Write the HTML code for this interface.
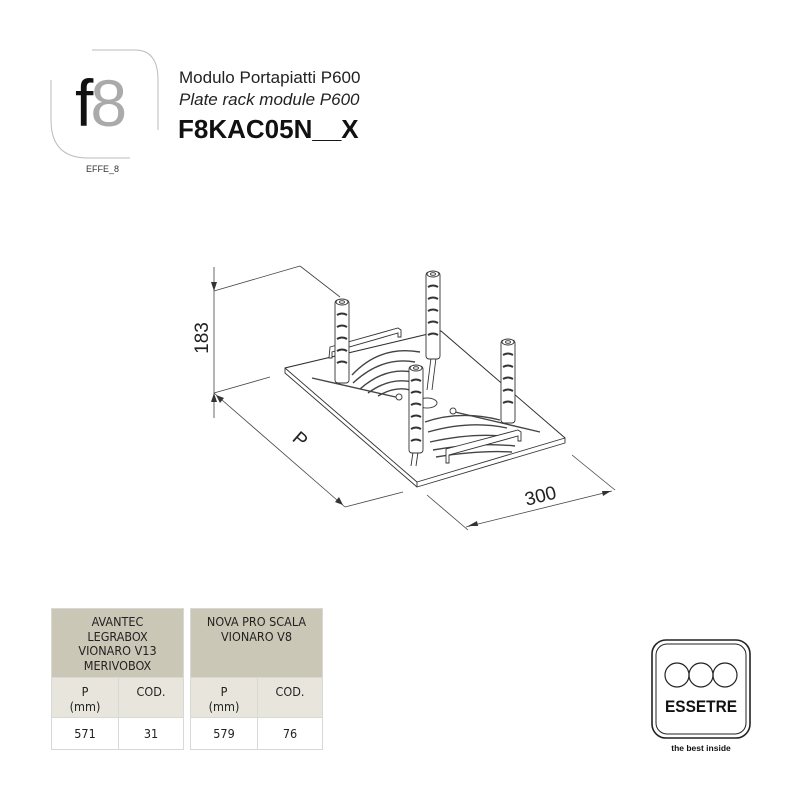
<!DOCTYPE html>
<html><head><meta charset="utf-8"><style>
body{margin:0;background:#fff;width:800px;height:800px;overflow:hidden;position:relative;font-family:"Liberation Sans",sans-serif}
.a{position:absolute}
table{border-collapse:collapse;position:absolute;font-family:"DejaVu Sans Condensed","Liberation Sans",sans-serif;font-size:12.5px;color:#222;text-align:center}
td{border:1px solid #d8d8d4;padding:0}
.h{background:#cac7b6;vertical-align:top;height:62px;line-height:14.5px;padding-top:6px}
.s{background:#e7e5dc;height:33px;vertical-align:top;line-height:15px;padding-top:6px}
.d{background:#fff;height:31px}
</style></head><body>
<svg class="a" style="left:0;top:0" width="800" height="800">
<path d="M92 50 H135 Q158 50 158 80 V130" fill="none" stroke="#bbb" stroke-width="1"/>
<path d="M51 80 V120 Q51 158 88 158 H130" fill="none" stroke="#bbb" stroke-width="1"/>
<g stroke="#444" stroke-width="0.8" fill="none">
<line x1="214" y1="267" x2="214" y2="418"/>
<line x1="214" y1="291" x2="300" y2="266"/><line x1="300" y1="266" x2="340" y2="297"/>
<line x1="214" y1="393" x2="270" y2="377"/>
<line x1="214" y1="393" x2="345" y2="507"/><line x1="345" y1="507" x2="403" y2="492"/>
<line x1="427" y1="495" x2="468" y2="530"/><line x1="572" y1="455" x2="615" y2="490"/>
<line x1="466" y1="527" x2="612" y2="491"/>
</g>
<g fill="#333">
<path d="M214 291 l-3 -9 h6z"/><path d="M214 393 l-3 9 h6z"/>
<path d="M216 395 l4 8 l4 -5z"/><path d="M343 505 l-4 -8 l-4 5z"/>
<path d="M468 526 l9 -5 l1 5z"/><path d="M611 491 l-9 0 l1 5z"/>
</g>
<g stroke="#333" stroke-width="0.9" fill="#fff" stroke-linejoin="round">
<path d="M285 368 L441 331 L565 438 L565 443 L417 487 L285 373Z"/>
<path d="M285 368 L441 331 L565 438 L417 482Z"/>
<line x1="417" y1="482" x2="417" y2="487"/>
</g>
<g stroke="#444" stroke-width="1.4" fill="none">
<path d="M352 375 Q380 345 420 352"/><path d="M353 383 Q382 356 415 362"/><path d="M360 389 Q385 367 412 372"/><path d="M368 393 Q390 377 412 382"/><path d="M378 396 Q395 386 410 390"/>
<path d="M425 422 Q460 410 500 420"/><path d="M428 432 Q470 420 507 428"/><path d="M430 442 Q475 432 512 437"/><path d="M433 450 Q478 442 515 446"/><path d="M436 457 Q480 450 512 452"/>
<line x1="312" y1="378" x2="400" y2="398"/><line x1="455" y1="412" x2="540" y2="432"/>
</g>
<circle cx="399" cy="397" r="3" fill="#fff" stroke="#444"/><circle cx="453" cy="411" r="3" fill="#fff" stroke="#444"/>
<ellipse cx="427" cy="403" rx="10" ry="5" fill="#fff" stroke="#444"/>
<g fill="#fff" stroke="#333" stroke-width="0.9">
<path d="M330 347 L398 328 L401 330 L401 337 L398 337 L398 333 L332 352 L332 358 L329 358Z"/>
<path d="M446 449 L518 430 L521 432 L521 441 L518 441 L518 436 L449 455 L449 463 L446 463Z"/>
</g>
<g fill="#fff" stroke="#333" stroke-width="0.9">
<rect x="335" y="300" width="14" height="83" rx="3"/><ellipse cx="342" cy="302" rx="6" ry="3"/><ellipse cx="342" cy="302" rx="2.5" ry="1.3"/>
<line x1="431" y1="358" x2="427" y2="390"/><line x1="436" y1="358" x2="432" y2="390"/>
<rect x="426" y="272" width="14" height="87" rx="3"/><ellipse cx="433" cy="274" rx="6" ry="3"/><ellipse cx="433" cy="274" rx="2.5" ry="1.3"/>
<rect x="501" y="340" width="14" height="83" rx="3"/><ellipse cx="508" cy="342" rx="6" ry="3"/><ellipse cx="508" cy="342" rx="2.5" ry="1.3"/>
<line x1="413" y1="452" x2="411" y2="466"/><line x1="418" y1="452" x2="416" y2="466"/>
<rect x="409" y="366" width="14" height="87" rx="3"/><ellipse cx="416" cy="368" rx="6" ry="3"/><ellipse cx="416" cy="368" rx="2.5" ry="1.3"/>
</g>
<g stroke="#333" stroke-width="2" fill="none">
<path d="M337 315 q5 -3 10 0 M337 327 q5 -3 10 0 M337 339 q5 -3 10 0 M337 351 q5 -3 10 0 M337 363 q5 -3 10 0"/>
<path d="M428 287 q5 -3 10 0 M428 299 q5 -3 10 0 M428 311 q5 -3 10 0 M428 323 q5 -3 10 0 M428 335 q5 -3 10 0"/>
<path d="M503 355 q5 -3 10 0 M503 367 q5 -3 10 0 M503 379 q5 -3 10 0 M503 391 q5 -3 10 0 M503 403 q5 -3 10 0"/>
<path d="M411 381 q5 -3 10 0 M411 393 q5 -3 10 0 M411 405 q5 -3 10 0 M411 417 q5 -3 10 0 M411 429 q5 -3 10 0 M411 441 q5 -3 10 0"/>
</g>
<text x="0" y="0" transform="translate(208,338) rotate(-90)" text-anchor="middle" font-size="19" fill="#222">183</text>
<text x="0" y="0" transform="translate(296,444) rotate(41)" text-anchor="middle" font-size="19" fill="#222">P</text>
<text x="0" y="0" transform="translate(542,502) rotate(-14)" text-anchor="middle" font-size="19" fill="#222">300</text>
<rect x="652" y="640" width="98" height="98" rx="14" fill="none" stroke="#222" stroke-width="1.6"/>
<rect x="656" y="644" width="90" height="90" rx="11" fill="none" stroke="#222" stroke-width="1"/>
<circle cx="677" cy="675" r="12" fill="none" stroke="#222" stroke-width="1.2"/>
<circle cx="701" cy="675" r="12" fill="none" stroke="#222" stroke-width="1.2"/>
<circle cx="725" cy="675" r="12" fill="none" stroke="#222" stroke-width="1.2"/>
<text x="701" y="712" text-anchor="middle" font-size="17" font-weight="bold" fill="#111" textLength="72" lengthAdjust="spacingAndGlyphs">ESSETRE</text>
<text x="701" y="751" text-anchor="middle" font-size="8.5" font-weight="bold" fill="#111">the best inside</text>
</svg>
<div class="a" style="left:75px;top:65px;font-size:66px;line-height:76px;letter-spacing:-3px"><span style="color:#111">f</span><span style="color:#aaa">8</span></div>
<div class="a" style="left:86px;top:164px;font-size:9px;color:#333">EFFE_8</div>
<div class="a" style="left:179px;top:68px;font-size:17px;color:#222">Modulo Portapiatti P600</div>
<div class="a" style="left:179px;top:90px;font-size:17px;color:#222;font-style:italic">Plate rack module P600</div>
<div class="a" style="left:178px;top:114px;font-size:26px;font-weight:bold;color:#111">F8KAC05N__X</div>
<table style="left:51px;top:608px;width:133px">
<tr><td colspan="2" class="h">AVANTEC<br>LEGRABOX<br>VIONARO V13<br>MERIVOBOX</td></tr>
<tr><td class="s" style="width:66px">P<br>(mm)</td><td class="s">COD.</td></tr>
<tr><td class="d">571</td><td class="d">31</td></tr></table>
<table style="left:190px;top:608px;width:133px">
<tr><td colspan="2" class="h">NOVA PRO SCALA<br>VIONARO V8</td></tr>
<tr><td class="s" style="width:66px">P<br>(mm)</td><td class="s">COD.</td></tr>
<tr><td class="d">579</td><td class="d">76</td></tr></table>
</body></html>
